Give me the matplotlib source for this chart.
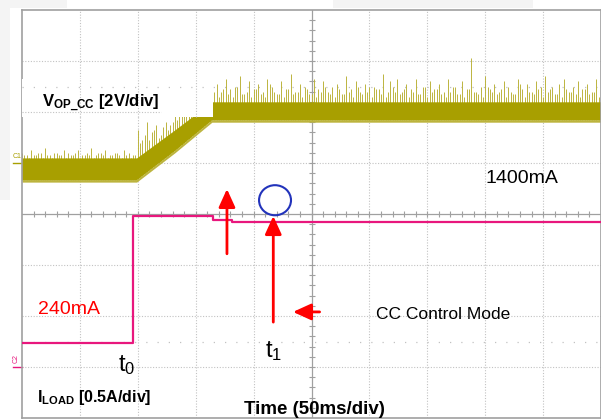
import matplotlib.pyplot as plt
import numpy as np
from matplotlib.patches import Ellipse, Rectangle

plt.rcParams["font.family"] = ["Liberation Sans", "DejaVu Sans"]
plt.rcParams["mathtext.fontset"] = "custom"
plt.rcParams["mathtext.rm"] = "Liberation Sans"
plt.rcParams["mathtext.it"] = "Liberation Sans"
plt.rcParams["mathtext.bf"] = "Liberation Sans:bold"

# scope settings: 50 ms/div over 10 div, 8 vertical div
ch1_volts_per_div = 2.0
ch1_ground_div = 1.0
ch2_ma_per_div = 500.0
ch2_ground_div = -3.0

# CH1 (V_OP_CC): dense noise band, volts
band_t = [0, 99, 132, 164, 500]
band_lo = [-0.65, -0.65, 0.5, 1.7, 1.7]
band_hi = [0.2, 0.2, 1.3, 2.4, 2.4]

# CH1 noise spike tops, volts, one every 4 ms from t = 0
spike_step = 4
spike_top = [
    0.4, 0.3, 0.5, 0.3, 0.4, 0.6, 0.3, 0.4, 0.3, 0.5, 0.4, 0.3, 0.5,
    0.3, 0.4, 0.6, 0.3, 0.4, 0.5, 0.3, 0.4, 0.3, 0.5, 0.4, 0.3,
    1.3, 0.9, 1.6, 1.2, 1.5, 1.1, 1.6, 1.5, 1.9, 2.1, 2.4, 2.6, 2.9,
    2.6, 3.0, 3.1, 2.8,
    3.1, 2.8, 3.3, 2.9, 3.0, 3.4, 2.7, 3.2, 2.9, 3.1, 2.8, 3.3, 3.0,
    2.7, 3.2, 2.9, 3.5, 2.8, 3.1, 3.0,
    2.7, 3.3, 2.9, 3.2, 2.8, 3.0, 3.1, 2.7, 3.4, 2.9, 3.2, 2.8, 3.1,
    3.0, 3.0, 2.9, 3.5, 2.8, 3.0, 3.3,
    2.8, 3.1, 2.9, 3.3, 2.7, 3.0, 3.2, 2.9, 3.1, 2.8, 3.3, 3.0, 2.7,
    3.2, 2.9, 4.1, 2.8, 3.0, 3.4, 2.9,
    3.1, 2.8, 3.2, 3.0, 2.7, 3.3, 2.9, 3.1, 2.8, 3.2, 3.0, 3.4, 2.9,
    2.7, 3.1, 3.3, 2.8, 3.0, 3.2, 2.9,
    3.1, 2.8, 3.3, 3.0,
]
# smaller spikes in between, from t = 2 ms
spike_top2 = [
    0.3, 0.2, 0.3, 0.4, 0.2, 0.3, 0.2, 0.4, 0.3, 0.2, 0.3, 0.4, 0.2,
    0.3, 0.3, 0.2, 0.4, 0.3, 0.2, 0.3, 0.4, 0.2, 0.3, 0.2, 0.3,
    0.8, 1.1, 0.9, 1.3, 1.0, 1.4, 1.3, 1.6, 1.7, 2.0, 2.2, 2.3, 2.6,
    2.5, 2.7, 2.6,
    2.8, 2.6, 2.9, 2.7, 2.6, 3.0, 2.7, 2.8, 2.6, 2.9, 2.7, 2.6, 3.1,
    2.8, 2.7, 2.6, 2.9, 2.7, 2.8, 2.6,
    2.9, 2.7, 2.6, 2.8, 3.0, 2.7, 2.6, 2.9, 2.7, 2.8, 2.6, 3.0, 2.7,
    2.8, 2.6, 2.9, 2.7, 2.6, 3.2, 2.8,
    2.7, 2.9, 2.6, 2.8, 2.7, 3.0, 2.6, 2.8, 2.9, 2.7, 2.6, 2.8, 3.0,
    2.7, 2.6, 2.9, 2.8, 2.7, 2.6, 3.0,
    2.8, 2.7, 2.9, 2.6, 2.8, 2.7, 3.1, 2.6, 2.8, 2.7, 2.9, 2.6, 2.8,
    3.0, 2.7, 2.6, 2.9, 2.8, 2.7, 2.6,
    2.9, 2.7, 2.8, 2.6,
]

# CH2 (I_LOAD), mA
load_t = [0, 96, 165, 181, 500]
load_ma = [240, 1480, 1440, 1420, 1420]

olive = "#a89f00"
spike_c = "#bcb43e"
pink = "#e8177d"
grid_c = "#c2c2c2"
axis_c = "#a0a0a0"
dots = (0, (1, 1.5))
sparse = (0, (1, 8))

fig = plt.figure(figsize=(6.01, 4.20), dpi=100)
# faint grey strips of the screenshot
for x0, y0, w, h in [(0, 412, 67, 8), (0, 220, 10, 200), (333, 412, 200, 8)]:
    fig.patches.append(Rectangle((x0 / 601, y0 / 420), w / 601, h / 420,
                                 transform=fig.transFigure, fc="#f4f4f4", ec="none"))

ax = fig.add_axes([22 / 601, 2 / 420, 579 / 601, 408 / 420])
ax.set_xlim(0, 500)
ax.set_ylim(-4, 4)
ax.set_xticks([])
ax.set_yticks([])
for sp in ax.spines.values():
    sp.set_color(axis_c)
    sp.set_linewidth(1.2)

# graticule (under the traces)
for k in range(1, 10):
    if k != 5:
        ax.axvline(k * 50, color=grid_c, lw=0.8, ls=dots, zorder=1)
for k in [-3, -2, -1, 1, 2, 3]:
    ax.axhline(k, color=grid_c, lw=0.8, ls=dots, zorder=1)
for k in [-2.5, 2.5]:
    ax.axhline(k, color=grid_c, lw=0.9, ls=sparse, zorder=1)
ax.axhline(0, color=axis_c, lw=0.9, zorder=1)
ax.axvline(250, color=axis_c, lw=0.9, zorder=1)
hx = np.arange(10, 500, 10)
ax.plot(hx, np.zeros_like(hx), ls="none", marker="|", ms=4, mew=0.8,
        color=axis_c, zorder=1)
vy = np.arange(-3.8, 4.0, 0.2)
ax.plot(np.full_like(vy, 250), vy, ls="none", marker="_", ms=5, mew=0.8,
        color=axis_c, zorder=1)

# CH1 trace: spikes behind the solid band
v_lo = ch1_ground_div + np.array(band_lo) / ch1_volts_per_div
v_hi = ch1_ground_div + np.array(band_hi) / ch1_volts_per_div
for offset, tops in [(0, spike_top), (2, spike_top2)]:
    st = offset + np.arange(len(tops)) * spike_step
    base = np.interp(st, band_t, v_lo)
    sy = ch1_ground_div + np.array(tops) / ch1_volts_per_div
    ax.vlines(st, base, sy, color=spike_c, lw=0.7, zorder=1.8)
ax.fill_between(band_t, v_lo - 0.05, v_lo, color=spike_c, lw=0, zorder=2)
ax.fill_between(band_t, v_lo, v_hi, color=olive, lw=0, zorder=2)

# label box pasted over the trace, graticule still showing through
ax.add_patch(Rectangle((0, 1.9), 165, 0.75, fc="white", ec="none", zorder=3))
ax.hlines(2, 0, 120, color=grid_c, lw=0.8, ls=dots, zorder=3.1)
ax.hlines(2.5, 0, 165, color=grid_c, lw=0.9, ls=sparse, zorder=3.1)
ax.vlines([50, 100, 150], 1.9, 2.65, color=grid_c, lw=0.8, ls=dots, zorder=3.1)

# CH2 trace
load_y = ch2_ground_div + np.array(load_ma) / ch2_ma_per_div
ax.step(load_t, load_y, where="post", color=pink, lw=1.6, zorder=3.5)

# channel ground markers
ax.plot([-8, 0], [ch1_ground_div, ch1_ground_div], color=olive, lw=1, clip_on=False)
ax.text(-8, 1.1, "C1", fontsize=5, color=olive, clip_on=False)
ax.plot([-8, 0], [ch2_ground_div, ch2_ground_div], color=pink, lw=1, clip_on=False)
ax.text(-8, -2.92, "C2", fontsize=5, color=pink, rotation=90, va="bottom",
        clip_on=False)

# annotations
arrow = dict(arrowstyle="-|>,head_length=0.55,head_width=0.25", color="red",
             lw=2, mutation_scale=20, shrinkA=0, shrinkB=0)
ax.annotate("", xy=(177, 0.49), xytext=(177, -0.78), arrowprops=arrow, zorder=6)
ax.annotate("", xy=(217, -0.04), xytext=(217, -2.12), arrowprops=arrow, zorder=6)
ax.annotate("", xy=(234, -1.92), xytext=(257, -1.92), arrowprops=arrow, zorder=6)
ax.add_patch(Ellipse((218.5, 0.27), 27.6, 0.59, fill=False, ec="#2233bb",
                     lw=1.5, zorder=6))

ax.text(17, 2.1, r"V$_{\mathbf{OP\_CC}}$ [2V/div]", fontsize=12,
        fontweight="bold", va="baseline", zorder=6)
ax.text(400, 0.61, "1400mA", fontsize=14, va="baseline", zorder=6)
ax.text(14, -1.96, "240mA", fontsize=14, color="red", va="baseline", zorder=6)
ax.text(306, -2.06, "CC Control Mode", fontsize=12.5, va="baseline", zorder=6)
ax.text(83, -3.08, r"t$_0$", fontsize=17, va="baseline", zorder=6)
ax.text(210, -2.8, r"t$_1$", fontsize=17, va="baseline", zorder=6)
ax.text(13, -3.69, r"I$_{\mathbf{LOAD}}$ [0.5A/div]", fontsize=11.5,
        fontweight="bold", va="baseline", zorder=6)
ax.text(192, -3.92, "Time (50ms/div)", fontsize=13.5, fontweight="bold",
        va="baseline", zorder=6, clip_on=False)

fig.savefig("out.png", dpi=100)
